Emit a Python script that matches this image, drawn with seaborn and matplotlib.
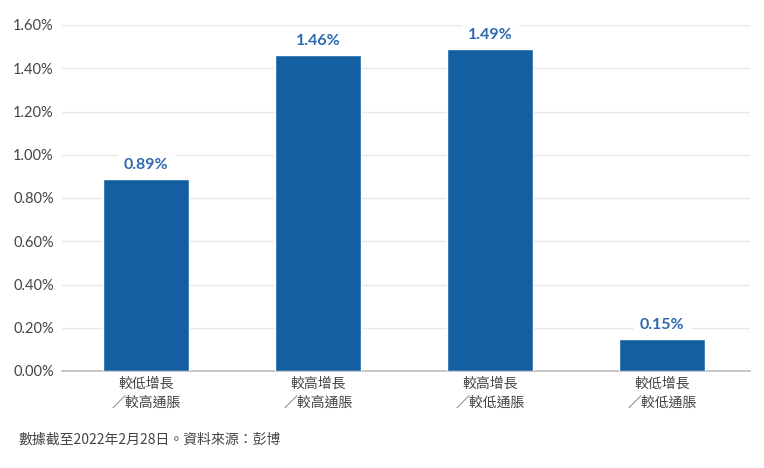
import matplotlib
matplotlib.use("Agg")
import matplotlib.pyplot as plt
import seaborn as sns
import pandas as pd

categories = ["較低增長\n／較高通脹", "較高增長\n／較高通脹", "較高增長\n／較低通脹", "較低增長\n／較低通脹"]
values = [0.89, 1.46, 1.49, 0.15]
yticks = [0.0, 0.2, 0.4, 0.6, 0.8, 1.0, 1.2, 1.4, 1.6]
footer = "數據截至2022年2月28日。資料來源：彭博"

sns.set_theme(style="white")
plt.rcParams['font.family'] = ['Noto Sans CJK TC', 'DejaVu Sans']

bar_color = "#135fa1"
label_color = "#2e69ae"

df = pd.DataFrame({"cat": categories, "val": values})

fig = plt.figure(figsize=(7.64, 4.68), dpi=100)
ax = fig.add_axes([62 / 764, 1 - 371 / 468, 688 / 764, 346 / 468])

sns.barplot(data=df, x="cat", y="val", color=bar_color, saturation=1, width=0.5, ax=ax, zorder=3)

ax.set_xlim(-0.49, 3.51)
ax.set_ylim(0, 1.6)
ax.set_yticks(yticks)
ax.set_yticklabels(["%.2f%%" % t for t in yticks], fontsize=10.5, color="#444444",
                   family=['Lato', 'DejaVu Sans'])
ax.tick_params(axis="y", length=0, pad=6)
ax.tick_params(axis="x", length=0, pad=4)
for lbl in ax.get_xticklabels():
    lbl.set_fontsize(10)
    lbl.set_color("#444444")
    lbl.set_linespacing(1.5)
ax.set_xlabel("")
ax.set_ylabel("")
ax.grid(axis="y", color="#e9e9e9", linewidth=1, zorder=0)

for s in ["top", "right", "left"]:
    ax.spines[s].set_visible(False)
ax.spines["bottom"].set_color("#bdbdbd")
ax.spines["bottom"].set_linewidth(1.2)

for i, v in enumerate(values):
    ax.annotate("%.2f%%" % v, (i, v), xytext=(0, 5), textcoords="offset points",
                ha="center", va="bottom", fontsize=11.5, fontweight="bold",
                color=label_color, family=['Lato', 'DejaVu Sans'], zorder=4,
                bbox=dict(boxstyle="square,pad=0.4", fc="white", ec="none"))

fig.text(18 / 764, 1 - 440 / 468, footer, fontsize=10, color="#444444", va="center", ha="left")

fig.savefig("out.png", dpi=100)
